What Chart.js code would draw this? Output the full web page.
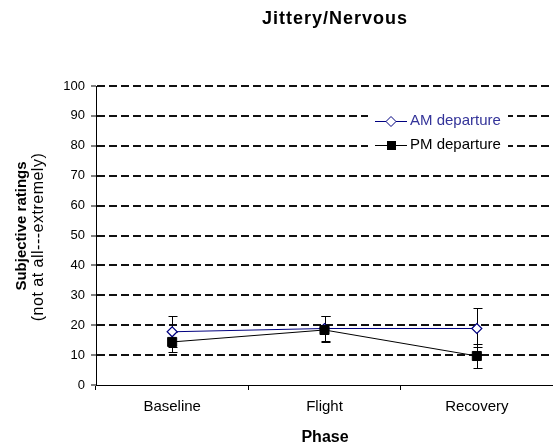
<!DOCTYPE html>
<html>
<head>
<meta charset="utf-8">
<script src="https://cdn.jsdelivr.net/npm/chart.js@4/dist/chart.umd.min.js"></script>
<style>
  body{margin:0;background:#fff;}
  #wrap{width:553px;height:445px;}
</style>
</head>
<body>
<div id="wrap"><canvas id="chart" width="553" height="445"></canvas></div>
<script>
const phases = ["Baseline","Flight","Recovery"];
const amValues = [17.8, 18.9, 18.9];
const amHigh = [23.0, 23.1, 25.9];
const amLow = [12.7, 14.6, 12.8];
const pmValues = [14.4, 18.4, 9.7];
const pmHigh = [17.6, 23.1, 13.7];
const pmLow = [11.1, 14.4, 5.7];
const yTicks = [0,10,20,30,40,50,60,70,80,90,100];

const FONT = "Liberation Sans, Arial, sans-serif";

// error bars drawn through the scales
const errorBars = {
  id:'errorBars',
  beforeDatasetsDraw(chart){
    const c = chart.ctx, x = chart.scales.x, y = chart.scales.y;
    const sets = [[amHigh,amLow],[pmHigh,pmLow]];
    c.save();
    c.strokeStyle = '#000';
    c.lineWidth = 1;
    sets.forEach(s=>{
      phases.forEach((p,i)=>{
        const px = Math.round(x.getPixelForValue(i)) + 0.5;
        const top = Math.round(y.getPixelForValue(s[0][i])) + 0.5;
        const bot = Math.round(y.getPixelForValue(s[1][i])) + 0.5;
        c.beginPath();
        c.moveTo(px,top); c.lineTo(px,bot);
        c.moveTo(px-4,top); c.lineTo(px+5,top);
        c.moveTo(px-4,bot); c.lineTo(px+5,bot);
        c.stroke();
      });
    });
    c.restore();
  }
};

// titles and the boxed legend
const extras = {
  id:'extras',
  afterDraw(chart){
    const c = chart.ctx;
    c.save();
    c.fillStyle = '#000';
    c.textAlign = 'center';
    c.textBaseline = 'middle';
    c.font = 'bold 18px ' + FONT;
    c.letterSpacing = '1px';
    c.fillText('Jittery/Nervous', 335, 19);
    c.letterSpacing = '0px';
    c.font = 'bold 16px ' + FONT;
    c.fillText('Phase', 325, 438);

    c.save();
    c.translate(22, 226);
    c.rotate(-Math.PI/2);
    c.font = 'bold 15px ' + FONT;
    c.fillText('Subjective ratings', 0, 0);
    c.restore();
    c.save();
    c.translate(39, 237);
    c.rotate(-Math.PI/2);
    c.font = '16px ' + FONT;
    c.letterSpacing = '0.5px';
    c.fillText('(not at all---extremely)', 0, 0);
    c.restore();
    c.letterSpacing = '0px';

    // legend
    c.fillStyle = '#fff';
    c.fillRect(368, 108, 140, 47);
    c.textAlign = 'left';
    c.font = '15px ' + FONT;
    c.lineWidth = 1;
    // AM
    c.strokeStyle = '#000080';
    c.beginPath(); c.moveTo(375,121.5); c.lineTo(407,121.5); c.stroke();
    c.fillStyle = '#fff';
    c.beginPath();
    c.moveTo(391,116.5); c.lineTo(396,121.5); c.lineTo(391,126.5); c.lineTo(386,121.5); c.closePath();
    c.fill(); c.stroke();
    c.fillStyle = '#333399';
    c.fillText('AM departure', 410, 121);
    // PM
    c.strokeStyle = '#000';
    c.beginPath(); c.moveTo(375,145.5); c.lineTo(407,145.5); c.stroke();
    c.fillStyle = '#000';
    c.fillRect(387,141,9,9);
    c.fillText('PM departure', 410, 145);
    c.restore();
  }
};

new Chart(document.getElementById('chart'),{
  type:'line',
  data:{
    labels:phases,
    datasets:[
      {label:'AM departure',data:amValues,borderColor:'#000080',borderWidth:1,
       pointStyle:'rectRot',pointRadius:5,pointBackgroundColor:'#fff',
       pointBorderColor:'#000080',pointBorderWidth:1.2,tension:0,order:1},
      {label:'PM departure',data:pmValues,borderColor:'#000',borderWidth:1,
       pointStyle:'rect',pointRadius:6.4,pointBackgroundColor:'#000',
       pointBorderColor:'#000',pointBorderWidth:1,tension:0,order:0}
    ]
  },
  options:{
    responsive:false,
    animation:false,
    devicePixelRatio:1,
    layout:{autoPadding:false,padding:{top:86,right:0,left:0,bottom:0}},
    plugins:{legend:{display:false},tooltip:{enabled:false}},
    scales:{
      x:{
        offset:true,
        grid:{offset:true,drawOnChartArea:false,color:'#000',tickLength:5},
        border:{display:true,color:'#000',width:1},
        ticks:{color:'#000',font:{family:FONT,size:15},padding:8,maxRotation:0},
        afterFit(s){ s.height = 60; s.paddingLeft = 0; s.paddingRight = 0; }
      },
      y:{
        min:0,max:100,
        afterBuildTicks(s){ s.ticks = yTicks.map(v=>({value:v})); },
        grid:{
          color:ctx=>ctx.tick && ctx.tick.value===0 ? 'rgba(0,0,0,0)' : '#111',
          tickColor:'#000',
          lineWidth:2,
          tickWidth:1,
          tickLength:5,
          tickBorderDash:[]
        },
        border:{display:true,color:'#000',width:1,dash:[8,4]},
        ticks:{color:'#000',font:{family:FONT,size:13},padding:6},
        afterFit(s){ s.width = 96; s.paddingTop = 0; s.paddingBottom = 0; }
      }
    }
  },
  plugins:[errorBars,extras]
});
</script>
</body>
</html>
